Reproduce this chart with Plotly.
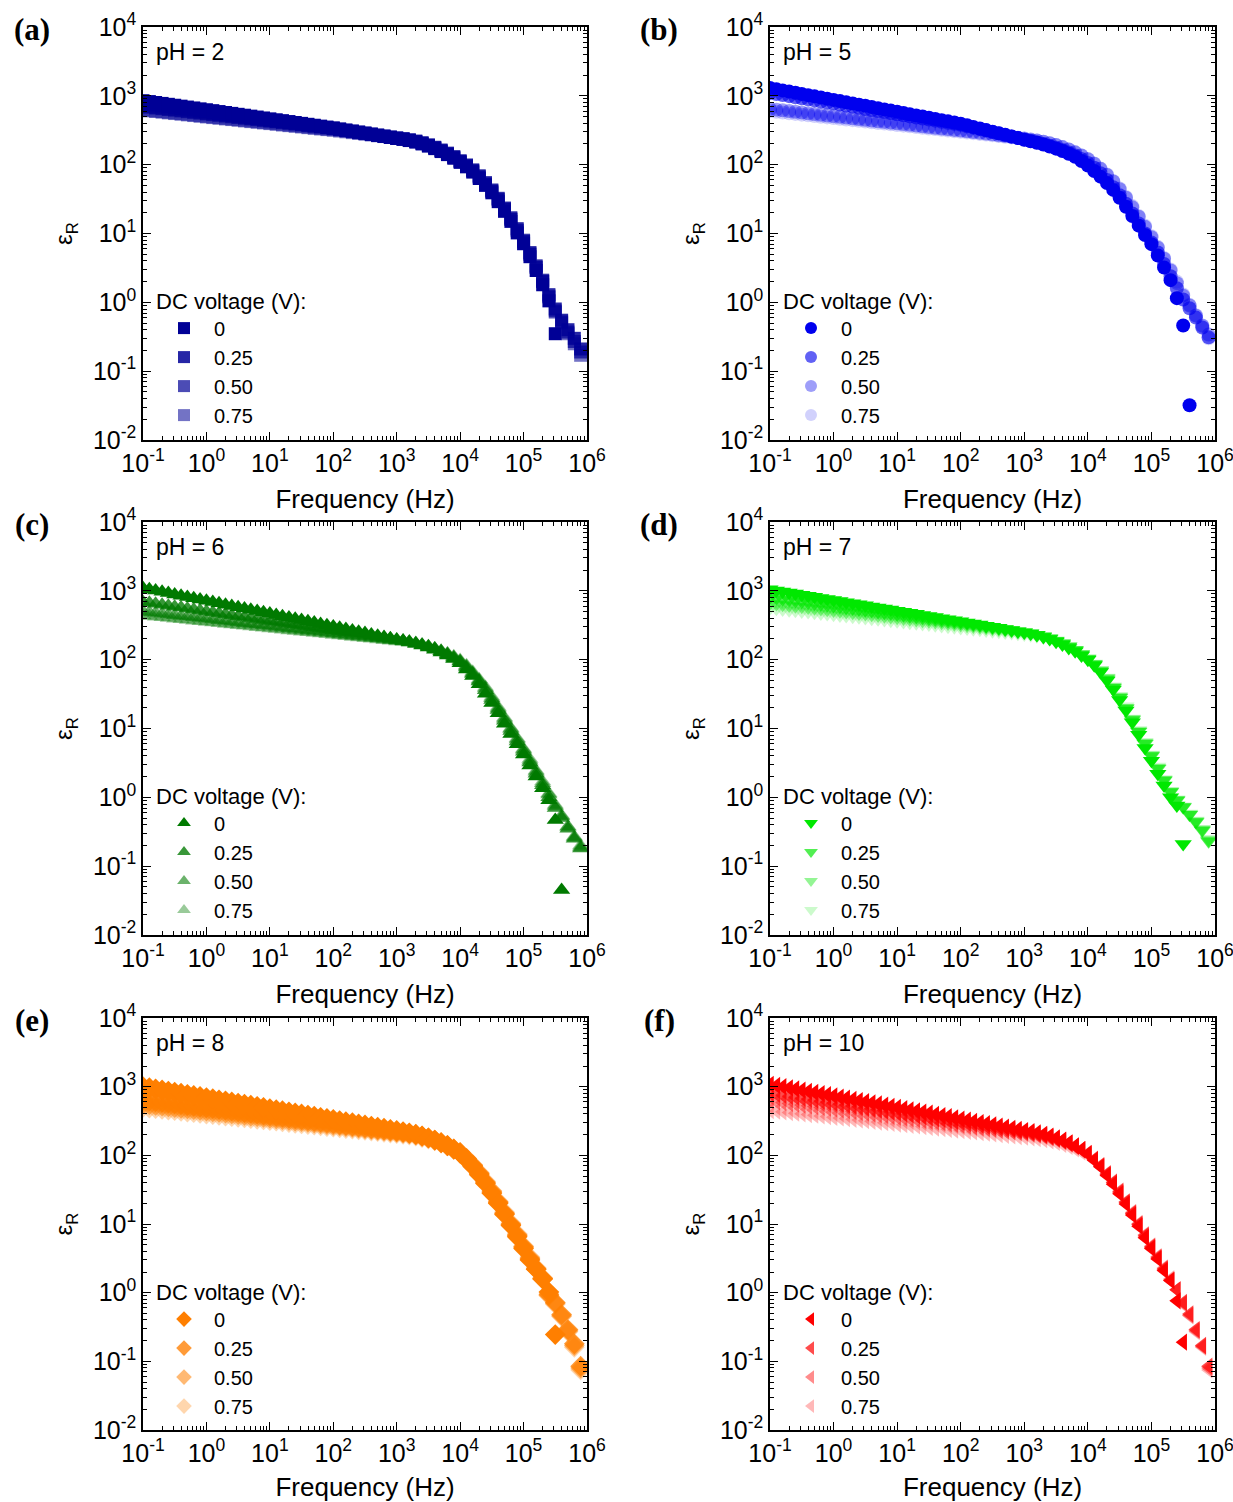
import plotly.graph_objects as go

# ---------------- data ----------------
FREQ_HZ = [0.1, 0.126, 0.158, 0.2, 0.251, 0.316, 0.398, 0.501, 0.631, 0.794,
           1, 1.26, 1.58, 2, 2.51, 3.16, 3.98, 5.01, 6.31, 7.94,
           10, 12.6, 15.8, 20, 25.1, 31.6, 39.8, 50.1, 63.1, 79.4,
           100, 126, 158, 200, 251, 316, 398, 501, 631, 794,
           1000, 1260, 1580, 2000, 2510, 3160, 3980, 5010, 6310, 7940,
           1e4, 1.26e4, 1.58e4, 2e4, 2.51e4, 3.16e4, 3.98e4, 5.01e4, 6.31e4, 7.94e4,
           1e5, 1.26e5, 1.58e5, 2e5, 2.51e5, 3.16e5, 3.98e5, 5.01e5, 6.31e5, 7.94e5]

DC_VOLTAGES = ["0", "0.25", "0.50", "0.75"]
PH_VALUES = ["2", "5", "6", "7", "8", "10"]
PANEL_LABELS = ["(a)", "(b)", "(c)", "(d)", "(e)", "(f)"]

X_TICKS = [0.1, 1, 10, 100, 1000, 1e4, 1e5, 1e6]
X_TICK_LABELS = ["10<sup>-1</sup>", "10<sup>0</sup>", "10<sup>1</sup>", "10<sup>2</sup>",
                 "10<sup>3</sup>", "10<sup>4</sup>", "10<sup>5</sup>", "10<sup>6</sup>"]
Y_TICKS = [0.01, 0.1, 1, 10, 100, 1000, 1e4]
Y_TICK_LABELS = ["10<sup>-2</sup>", "10<sup>-1</sup>", "10<sup>0</sup>", "10<sup>1</sup>",
                 "10<sup>2</sup>", "10<sup>3</sup>", "10<sup>4</sup>"]

# pH = 2
A_0V = [850, 825, 800, 776, 753, 730, 708, 687, 667, 647,
        628, 609, 591, 573, 556, 539, 523, 507, 492, 477,
        463, 449, 436, 423, 410, 398, 386, 374, 363, 352,
        342, 330, 318, 307, 296, 286, 276, 266, 257, 248,
        240, 233, 224, 213, 200, 186, 171, 155, 140, 124,
        108, 93, 78, 63, 50, 39, 29, 21, 15, 10.2,
        7.1, 4.6, 2.9, 1.8, 1.05, 0.35]
A_025V = [780, 758, 736, 715, 695, 676, 657, 639, 621, 604,
          587, 571, 555, 540, 525, 511, 497, 483, 470, 457,
          445, 433, 421, 410, 399, 388, 377, 367, 357, 347,
          338, 327, 316, 306, 296, 286, 277, 268, 259, 250,
          242, 235, 226, 216, 204, 190, 175, 159, 143, 127,
          111, 96, 81, 66, 52, 41, 31, 22.5, 16, 11,
          7.6, 5.0, 3.2, 2.0, 1.2, 0.8, 0.55, 0.40, 0.30, 0.21]
A_050V = [700, 683, 666, 650, 634, 619, 604, 589, 575, 561,
          547, 534, 521, 508, 496, 484, 472, 461, 450, 439,
          428, 418, 408, 398, 388, 379, 370, 361, 352, 343,
          335, 325, 315, 306, 297, 288, 279, 270, 262, 254,
          246, 239, 230, 220, 208, 194, 179, 163, 147, 131,
          114, 99, 84, 69, 55, 43, 32.5, 23.5, 17, 11.8,
          8.0, 5.3, 3.4, 2.1, 1.3, 0.75, 0.52, 0.37, 0.27, 0.19]
A_075V = [620, 606, 592, 579, 566, 553, 541, 529, 517, 505,
          494, 483, 472, 462, 452, 442, 432, 422, 413, 404,
          395, 386, 377, 369, 361, 353, 345, 337, 330, 323,
          316, 308, 300, 292, 284, 277, 270, 263, 256, 249,
          243, 237, 229, 219, 207, 193, 178, 162, 146, 130,
          113, 98, 83, 68, 54, 42, 32, 23, 16.5, 11.5,
          7.8, 5.2, 3.3, 2.05, 1.25, 0.72, 0.5, 0.35, 0.25, 0.17]

# pH = 5
B_0V = [1300, 1250, 1200, 1153, 1108, 1065, 1023, 983, 945, 908,
        873, 839, 806, 775, 745, 716, 688, 661, 635, 610,
        586, 563, 541, 520, 500, 480, 461, 443, 426, 409,
        393, 373, 354, 335, 318, 302, 286, 271, 257, 243,
        230, 219, 208, 196, 184, 171, 158, 144, 130, 113,
        97, 81, 67, 54, 43, 33, 24.5, 18, 13, 9.5,
        7.0, 4.8, 3.2, 2.1, 1.15, 0.46, 0.032]
B_025V = [1100, 1062, 1025, 989, 955, 921, 889, 858, 828, 799,
          771, 744, 718, 693, 669, 645, 623, 601, 580, 560,
          540, 521, 503, 485, 468, 452, 436, 421, 406, 392,
          380, 362, 345, 329, 313, 298, 284, 270, 257, 245,
          233, 222, 211, 200, 188, 176, 163, 150, 136, 121,
          106, 90, 75, 60, 47, 36, 27, 19.5, 14, 10,
          7.4, 5.3, 3.6, 2.4, 1.6, 1.1, 0.82, 0.6, 0.43, 0.31]
B_050V = [645, 630, 615, 600, 586, 572, 558, 545, 532, 519,
          507, 495, 483, 471, 460, 449, 438, 428, 418, 408,
          398, 389, 379, 370, 361, 353, 344, 336, 328, 320,
          313, 305, 298, 290, 283, 276, 268, 261, 254, 247,
          240, 233, 225, 216, 205, 193, 180, 166, 151, 136,
          120, 103, 87, 71, 57, 44, 33, 24, 17.5, 12.5,
          8.8, 6.2, 4.3, 2.9, 1.9, 1.25, 0.9, 0.64, 0.46, 0.34]
B_075V = [600, 586, 572, 559, 546, 533, 521, 509, 497, 486,
          475, 464, 453, 443, 433, 423, 413, 404, 395, 386,
          377, 369, 360, 352, 344, 336, 329, 321, 314, 307,
          300, 293, 287, 280, 274, 267, 261, 255, 249, 243,
          237, 231, 224, 215, 205, 193, 180, 166, 151, 136,
          121, 104, 88, 72, 58, 45, 34, 25, 18, 13,
          9.1, 6.4, 4.4, 3.0, 2.0, 1.3, 0.92, 0.65, 0.45, 0.30]

# pH = 6
C_0V = [1100, 1054, 1010, 967, 927, 888, 851, 815, 781, 748,
        717, 687, 658, 630, 604, 579, 554, 531, 509, 487,
        467, 447, 429, 411, 393, 377, 361, 346, 331, 317,
        304, 291, 278, 266, 254, 243, 232, 222, 213, 204,
        195, 188, 180, 171, 161, 150, 139, 127, 115, 102,
        89, 72, 58, 44, 32, 23.4, 16.6, 11.7, 8.3, 5.9,
        4.2, 2.9, 2.0, 1.35, 0.91, 0.47, 0.045]
C_025V = [690, 669, 648, 628, 608, 589, 571, 553, 536, 519,
          503, 487, 472, 457, 443, 429, 416, 403, 390, 378,
          366, 355, 344, 333, 323, 313, 303, 293, 284, 275,
          267, 259, 251, 244, 237, 230, 223, 216, 209, 202,
          196, 190, 183, 175, 166, 156, 145, 133, 120, 107,
          94, 77, 62, 48, 36, 26, 18.5, 13, 9.2, 6.5,
          4.6, 3.2, 2.2, 1.5, 1.0, 0.7, 0.5, 0.35, 0.25, 0.18]
C_050V = [500, 488, 476, 465, 454, 443, 432, 422, 412, 402,
          392, 383, 374, 365, 356, 347, 339, 331, 323, 315,
          308, 300, 293, 286, 279, 273, 266, 260, 254, 248,
          242, 236, 231, 225, 220, 215, 210, 205, 200, 195,
          190, 185, 179, 172, 164, 155, 145, 134, 122, 109,
          96, 80, 64, 50, 38, 27.5, 19.5, 13.8, 9.8, 6.9,
          4.9, 3.4, 2.35, 1.6, 1.1, 0.75, 0.53, 0.37, 0.26, 0.19]
C_075V = [440, 430, 421, 412, 403, 394, 386, 377, 369, 361,
          353, 346, 338, 331, 324, 317, 310, 303, 297, 290,
          284, 278, 272, 266, 261, 255, 250, 244, 239, 234,
          229, 224, 219, 214, 210, 205, 201, 196, 192, 188,
          184, 180, 175, 169, 162, 154, 145, 135, 124, 112,
          99, 83, 67, 52, 40, 29, 20.5, 14.5, 10.2, 7.2,
          5.1, 3.6, 2.45, 1.7, 1.15, 0.78, 0.55, 0.38, 0.27, 0.2]

# pH = 7
D_0V = [1050, 1013, 978, 944, 911, 879, 848, 818, 790, 762,
        735, 710, 685, 661, 638, 615, 594, 573, 553, 534,
        515, 497, 480, 463, 447, 431, 416, 401, 387, 374,
        361, 348, 336, 324, 312, 301, 290, 279, 269, 259,
        251, 240, 229, 214, 200, 182, 166, 148, 132, 115,
        100, 83, 66, 50, 37, 26, 18.2, 12.3, 8.1, 5.2,
        3.4, 2.2, 1.48, 1.0, 0.76, 0.21]
D_025V = [800, 778, 756, 735, 714, 694, 675, 656, 638, 620,
          603, 586, 569, 553, 538, 523, 508, 494, 480, 467,
          454, 441, 429, 417, 405, 394, 383, 372, 362, 352,
          342, 332, 322, 313, 303, 294, 285, 276, 267, 258,
          250, 241, 231, 218, 204, 188, 172, 155, 137, 119,
          102, 85, 68, 52, 39, 28, 19.5, 13.3, 9, 6,
          4.0, 2.6, 1.75, 1.2, 0.9, 0.72, 0.56, 0.44, 0.33, 0.23]
D_050V = [660, 644, 629, 614, 599, 585, 571, 557, 544, 531,
          518, 506, 494, 482, 470, 459, 448, 437, 427, 417,
          407, 397, 388, 378, 369, 360, 352, 343, 335, 327,
          319, 311, 303, 296, 288, 281, 274, 267, 260, 253,
          247, 239, 230, 218, 205, 190, 174, 157, 139, 121,
          104, 87, 70, 54, 40, 29, 20, 13.7, 9.2, 6.2,
          4.1, 2.7, 1.8, 1.22, 0.92, 0.73, 0.57, 0.45, 0.34, 0.24]
D_075V = [560, 548, 536, 524, 513, 502, 491, 480, 470, 460,
          450, 440, 430, 421, 412, 403, 394, 385, 377, 369,
          361, 353, 345, 338, 330, 323, 316, 309, 302, 296,
          289, 283, 277, 271, 265, 259, 254, 248, 243, 237,
          232, 226, 219, 210, 199, 186, 172, 156, 139, 122,
          105, 88, 71, 55, 41, 30, 21, 14, 9.5, 6.4,
          4.2, 2.8, 1.85, 1.25, 0.94, 0.74, 0.58, 0.46, 0.35, 0.25]

# pH = 8
E_0V = [1000, 964, 929, 896, 864, 833, 803, 774, 746, 719,
        693, 668, 644, 621, 599, 577, 556, 536, 517, 498,
        480, 463, 446, 430, 415, 400, 386, 372, 358, 345,
        333, 321, 309, 298, 287, 277, 267, 257, 248, 239,
        230, 222, 213, 203, 192, 180, 167, 153, 138, 122,
        107, 87, 69, 52, 39, 28, 20, 13.8, 9.5, 6.5,
        4.4, 3.0, 2.2, 1.58, 1.02, 0.245]
E_025V = [640, 623, 607, 591, 576, 561, 546, 532, 518, 504,
          491, 478, 466, 454, 442, 430, 419, 408, 397, 387,
          377, 367, 357, 348, 339, 330, 321, 313, 305, 297,
          289, 281, 274, 267, 260, 253, 246, 240, 234, 228,
          222, 216, 209, 200, 190, 179, 167, 153, 139, 124,
          109, 89, 71, 54, 40, 29, 20.5, 14.2, 9.8, 6.8,
          4.6, 3.1, 2.2, 1.6, 0.95, 0.72, 0.48, 0.29, 0.18, 0.085]
E_050V = [560, 547, 534, 521, 509, 497, 485, 474, 463, 452,
          441, 431, 421, 411, 401, 392, 383, 374, 365, 356,
          348, 340, 332, 324, 316, 309, 302, 295, 288, 281,
          274, 268, 261, 255, 249, 243, 238, 232, 227, 221,
          216, 211, 205, 197, 188, 178, 166, 153, 139, 124,
          110, 90, 72, 55, 41, 30, 21, 14.5, 10, 7,
          4.7, 3.2, 2.25, 1.62, 0.92, 0.70, 0.46, 0.28, 0.17, 0.08]
E_075V = [500, 489, 478, 467, 457, 447, 437, 427, 418, 409,
          400, 391, 382, 374, 366, 358, 350, 342, 335, 328,
          321, 314, 307, 300, 293, 287, 281, 275, 269, 263,
          257, 252, 246, 241, 236, 231, 226, 221, 216, 211,
          207, 202, 197, 190, 182, 173, 162, 150, 137, 123,
          110, 91, 73, 56, 42, 30.5, 21.5, 15, 10.3, 7.2,
          4.8, 3.3, 2.3, 1.65, 0.9, 0.68, 0.45, 0.27, 0.16, 0.075]

# pH = 10
F_0V = [1080, 1039, 999, 961, 925, 890, 856, 823, 792, 762,
        733, 705, 678, 652, 628, 604, 581, 559, 537, 517,
        497, 478, 460, 443, 426, 410, 394, 379, 365, 351,
        337, 324, 312, 300, 289, 278, 267, 257, 247, 238,
        229, 221, 212, 202, 191, 179, 166, 152, 137, 121,
        105, 85, 68, 51, 38, 27.5, 19.5, 13.5, 9.3, 6.3,
        4.4, 3.1, 2.1, 1.5, 0.76, 0.19]
F_025V = [800, 775, 750, 726, 703, 680, 659, 638, 617, 597,
          578, 560, 542, 524, 508, 491, 476, 460, 446, 431,
          418, 404, 391, 379, 367, 355, 344, 333, 322, 312,
          302, 293, 284, 275, 266, 258, 250, 242, 235, 227,
          220, 213, 205, 196, 186, 175, 163, 150, 136, 121,
          106, 87, 70, 53, 40, 29, 20.5, 14.2, 9.8, 6.7,
          4.6, 3.2, 2.2, 1.5, 1.1, 0.72, 0.49, 0.29, 0.17, 0.085]
F_050V = [620, 603, 587, 571, 556, 541, 527, 513, 499, 486,
          473, 460, 448, 436, 424, 413, 402, 391, 381, 371,
          361, 351, 342, 333, 324, 315, 307, 299, 291, 283,
          275, 268, 261, 254, 247, 241, 234, 228, 222, 216,
          211, 205, 198, 190, 181, 171, 160, 148, 135, 121,
          107, 88, 71, 54, 41, 30, 21, 14.5, 10, 6.9,
          4.7, 3.3, 2.25, 1.55, 1.1, 0.70, 0.47, 0.28, 0.165, 0.08]
F_075V = [450, 440, 430, 420, 411, 402, 393, 384, 375, 367,
          359, 351, 343, 335, 328, 320, 313, 306, 299, 293,
          286, 280, 274, 268, 262, 256, 250, 245, 239, 234,
          229, 224, 219, 214, 210, 205, 201, 196, 192, 188,
          184, 180, 175, 169, 162, 154, 145, 135, 124, 112,
          100, 84, 68, 53, 40, 30, 21, 14.8, 10.2, 7,
          4.8, 3.35, 2.3, 1.6, 1.1, 0.68, 0.46, 0.27, 0.16, 0.075]

# ---------------- styling ----------------
W, H = 1233, 1502
FONT = "Liberation Sans, Arial, sans-serif"
SERIF = "Liberation Serif, Times New Roman, serif"


def fx(px):   # page pixel -> paper x fraction
    return px / W


def fy(py):   # page pixel -> paper y fraction
    return 1 - py / H


panels = [
    dict(series=[A_0V, A_025V, A_050V, A_075V], symbol="square", size=13,
         rgb=(0, 0, 150), alphas=[1, 0.85, 0.7, 0.55]),
    dict(series=[B_0V, B_025V, B_050V, B_075V], symbol="circle", size=14,
         rgb=(0, 0, 238), alphas=[1, 0.62, 0.38, 0.18]),
    dict(series=[C_0V, C_025V, C_050V, C_075V], symbol="triangle-up", size=15,
         rgb=(0, 122, 0), alphas=[1, 0.78, 0.58, 0.4]),
    dict(series=[D_0V, D_025V, D_050V, D_075V], symbol="triangle-down", size=15,
         rgb=(0, 232, 0), alphas=[1, 0.68, 0.42, 0.2]),
    dict(series=[E_0V, E_025V, E_050V, E_075V], symbol="diamond", size=16,
         rgb=(255, 127, 0), alphas=[1, 0.78, 0.55, 0.32]),
    dict(series=[F_0V, F_025V, F_050V, F_075V], symbol="triangle-left", size=15,
         rgb=(255, 0, 0), alphas=[1, 0.7, 0.45, 0.28]),
]

# page-pixel boxes of the plot areas (left, right) and (top, bottom)
COLS = [(143, 587), (770, 1215)]
ROWS = [(27, 440), (522, 935), (1018, 1430)]

fig = go.Figure()
layout = dict(width=W, height=H,
              margin=dict(l=0, r=0, t=0, b=0, pad=0, autoexpand=False),
              paper_bgcolor="white", plot_bgcolor="white",
              font=dict(family=FONT, size=22, color="black"),
              showlegend=True)
annotations = []

for i, p in enumerate(panels):
    r, c = divmod(i, 2)
    x0, x1 = COLS[c]
    y0, y1 = ROWS[r]
    n = i + 1
    xa = "x" if n == 1 else f"x{n}"
    ya = "y" if n == 1 else f"y{n}"
    leg = "legend" if n == 1 else f"legend{n}"
    axis_common = dict(type="log", showline=True, linecolor="black", linewidth=1.5,
                       mirror="allticks", ticks="inside", ticklen=8, tickwidth=1.3,
                       tickcolor="black", showgrid=False, zeroline=False, automargin=False,
                       ticklabeloverflow="allow",
                       tickfont=dict(family=FONT, size=25, color="black"),
                       minor=dict(ticks="inside", ticklen=4, tickwidth=1, tickcolor="black",
                                  dtick="D1", showgrid=False))
    layout["xaxis" if n == 1 else f"xaxis{n}"] = dict(
        axis_common, domain=[fx(x0), fx(x1)], range=[-1, 6], anchor=ya,
        tickmode="array", tickvals=X_TICKS, ticktext=X_TICK_LABELS,
        title=dict(text="Frequency (Hz)", font=dict(family=FONT, size=26), standoff=14))
    layout["yaxis" if n == 1 else f"yaxis{n}"] = dict(
        axis_common, domain=[fy(y1), fy(y0)], range=[-2, 4], anchor=xa,
        tickmode="array", tickvals=Y_TICKS, ticktext=Y_TICK_LABELS,
        title=dict(text="ε<sub>R</sub>", font=dict(family=FONT, size=24), standoff=13))

    # traces: lightest first so that 0 V sits on top
    for j in reversed(range(4)):
        vals = p["series"][j]
        rr, gg, bb = p["rgb"]
        col = f"rgba({rr},{gg},{bb},{p['alphas'][j]})"
        fig.add_trace(go.Scatter(
            x=FREQ_HZ[:len(vals)], y=vals, mode="markers",
            name=DC_VOLTAGES[j], legend=leg, legendrank=j + 1,
            marker=dict(symbol=p["symbol"], size=p["size"], color=col, line=dict(width=0)),
            xaxis=xa, yaxis=ya))

    layout[leg] = dict(
        x=fx(x0 + 11), y=fy(y0 + 253), xanchor="left", yanchor="top",
        bgcolor="rgba(0,0,0,0)", borderwidth=0, itemwidth=50,
        title=dict(text="DC voltage (V):", font=dict(family=FONT, size=22)),
        font=dict(family=FONT, size=20), itemsizing="constant", traceorder="normal",
        tracegroupgap=0)

    annotations.append(dict(text=f"pH = {PH_VALUES[i]}", xref="paper", yref="paper",
                            x=fx(x0 + 11), y=fy(y0 + 25), xanchor="left", yanchor="middle",
                            showarrow=False, font=dict(family=FONT, size=23)))
    annotations.append(dict(text=f"<b>{PANEL_LABELS[i]}</b>", xref="paper", yref="paper",
                            x=fx(x0 - 111), y=fy(y0 + 2), xanchor="center", yanchor="middle",
                            showarrow=False, font=dict(family=SERIF, size=31)))

layout["annotations"] = annotations
fig.update_layout(**layout)
# the page's default 8px body margin would push the fixed-size figure out of the window
fig.write_html("out.html",
               config={"displayModeBar": False},
               post_script="document.body.style.margin='0px';document.body.style.overflow='hidden';")
